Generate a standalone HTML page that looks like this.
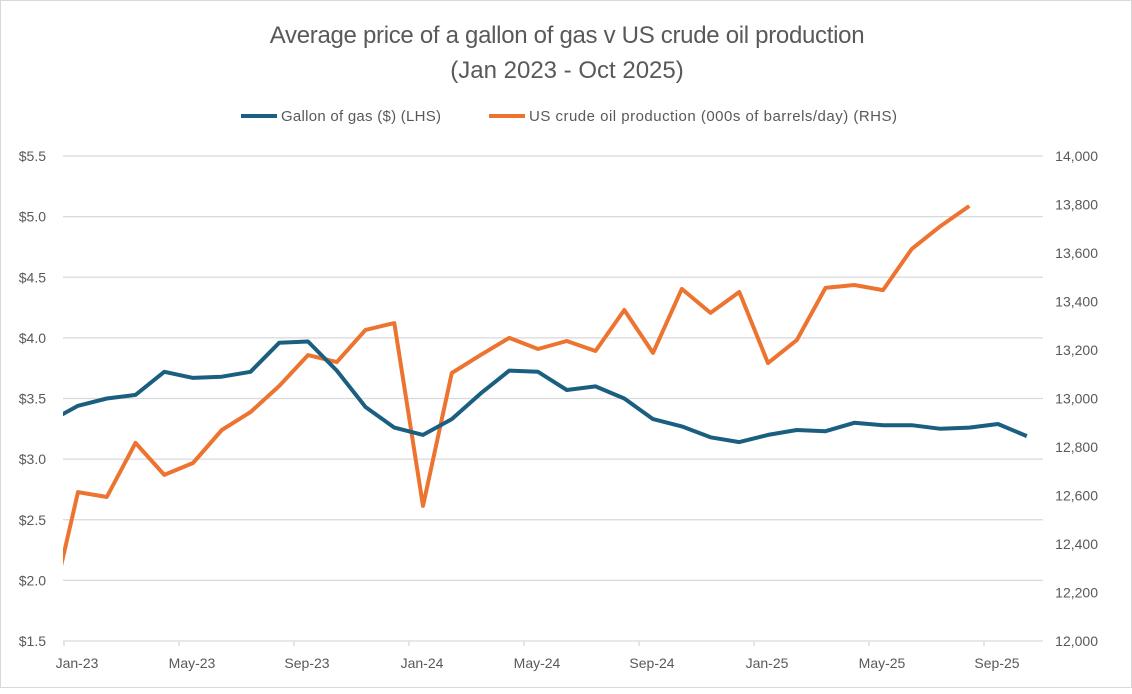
<!DOCTYPE html>
<html><head><meta charset="utf-8"><style>
body{margin:0;background:#fff;font-family:"Liberation Sans",sans-serif}
#wrap{position:relative;width:1132px;height:688px;border:1px solid #d9d9d9;box-sizing:border-box}
</style></head><body>
<div id="wrap">
<svg id="chart" width="1132" height="688">
<text x="566" y="42" text-anchor="middle" font-size="24" fill="#595959" letter-spacing="-0.3">Average price of a gallon of gas v US crude oil production</text>
<text x="566" y="77" text-anchor="middle" font-size="24" fill="#595959">(Jan 2023 - Oct 2025)</text>
<g>
<line x1="240" y1="115" x2="276" y2="115" stroke="#1a5f80" stroke-width="4"/>
<text x="280" y="120" font-size="15" fill="#595959" textLength="160">Gallon of gas ($) (LHS)</text>
<line x1="488" y1="115" x2="524" y2="115" stroke="#ed7430" stroke-width="4"/>
<text x="528" y="120" font-size="15" fill="#595959" textLength="368">US crude oil production (000s of barrels/day) (RHS)</text>
</g>
<defs><clipPath id="pc"><rect x="62" y="100" width="990" height="560"/></clipPath></defs>
<g id="grid"></g><g id="axes"></g><g id="series" clip-path="url(#pc)"></g>
</svg></div>
<script>
const months=["Dec-22","Jan-23","Feb-23","Mar-23","Apr-23","May-23","Jun-23","Jul-23","Aug-23","Sep-23","Oct-23","Nov-23","Dec-23","Jan-24","Feb-24","Mar-24","Apr-24","May-24","Jun-24","Jul-24","Aug-24","Sep-24","Oct-24","Nov-24","Dec-24","Jan-25","Feb-25","Mar-25","Apr-25","May-25","Jun-25","Jul-25","Aug-25","Sep-25","Oct-25"];
const gas=[3.31,3.44,3.50,3.53,3.72,3.67,3.68,3.72,3.96,3.97,3.73,3.43,3.26,3.20,3.33,3.54,3.73,3.72,3.57,3.60,3.50,3.33,3.27,3.18,3.14,3.20,3.24,3.23,3.30,3.28,3.28,3.25,3.26,3.29,3.19];
const oil=[12100,12614,12594,12817,12685,12734,12870,12944,13052,13179,13150,13283,13311,12557,13105,13179,13250,13204,13237,13196,13365,13188,13452,13353,13439,13146,13241,13456,13468,13447,13617,13711,13794,null,null];
const leftTicks=["$1.5","$2.0","$2.5","$3.0","$3.5","$4.0","$4.5","$5.0","$5.5"];
const leftVals=[1.5,2.0,2.5,3.0,3.5,4.0,4.5,5.0,5.5];
const rightTicks=["12,000","12,200","12,400","12,600","12,800","13,000","13,200","13,400","13,600","13,800","14,000"];
const rightVals=[12000,12200,12400,12600,12800,13000,13200,13400,13600,13800,14000];
const xLabels=["Jan-23","May-23","Sep-23","Jan-24","May-24","Sep-24","Jan-25","May-25","Sep-25"];
const NS="http://www.w3.org/2000/svg";
const yTop=155,yBot=640,xLeft=62,xRight=1042,step=28.75;
const xS=i=>77+(i-1)*step;
const yL=v=>yBot-(v-1.5)/4*(yBot-yTop);
const yR=v=>yBot-(v-12000)/2000*(yBot-yTop);
function mk(t,a,p){const e=document.createElementNS(NS,t);for(const k in a)e.setAttribute(k,a[k]);p.appendChild(e);return e;}
const grid=document.getElementById('grid'),axes=document.getElementById('axes'),ser=document.getElementById('series');
leftVals.forEach((v,i)=>{
 if(i>0){const g=mk('line',{x1:xLeft,x2:xRight,y1:yL(v),y2:yL(v),stroke:'#d9d9d9','stroke-width':1.3},grid);
 
 }
 const t=mk('text',{x:45,y:yL(v)+5,'text-anchor':'end','font-size':14,fill:'#595959'},axes);t.textContent=leftTicks[i];
 
 
});
rightVals.forEach((v,i)=>{
 const t=mk('text',{x:1097,y:yR(v)+5,'text-anchor':'end','font-size':14,fill:'#595959'},axes);t.textContent=rightTicks[i];
 
 
});
const ax=mk('line',{x1:xLeft,x2:xRight,y1:yBot,y2:yBot,stroke:'#d9d9d9','stroke-width':1.3},axes);


xLabels.forEach((l,k)=>{
 const i=months.indexOf(l);
 const tk=mk('line',{x1:xS(i)-14,x2:xS(i)-14,y1:yBot,y2:yBot+5,stroke:'#d9d9d9','stroke-width':1.3},axes);
 
 
 const t=mk('text',{x:xS(i)-1,y:667,'text-anchor':'middle','font-size':14,fill:'#595959'},axes);t.textContent=l;
 
 
});
function path(vals,yf){let d='';vals.forEach((v,i)=>{if(v==null)return;d+=(d?'L':'M')+xS(i).toFixed(1)+','+yf(v).toFixed(1);});return d;}
const po=mk('path',{d:path(oil,yR),fill:'none',stroke:'#ed7430','stroke-width':4,'stroke-linejoin':'round'},ser);


const pg=mk('path',{d:path(gas,yL),fill:'none',stroke:'#1a5f80','stroke-width':4,'stroke-linejoin':'round'},ser);


</script></body></html>
